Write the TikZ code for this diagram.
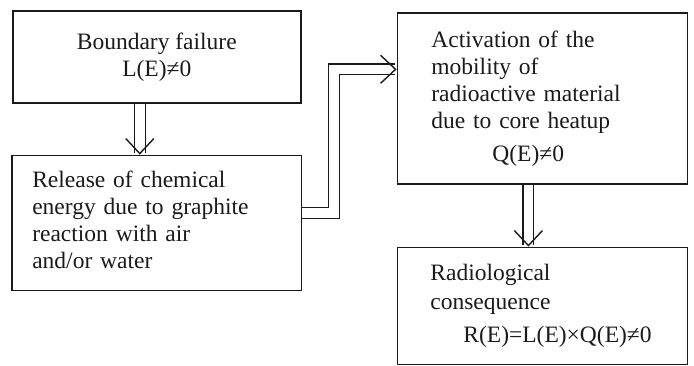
\documentclass[tikz,border=0pt]{standalone}
\usepackage{fontspec}
\setmainfont{Liberation Serif}
\usepackage{xcolor}
\definecolor{cInk}{HTML}{1A1A1A}
\usepackage{tikz}
\usetikzlibrary{positioning,arrows.meta}
\tikzset{
  node-box/.style={draw=cInk,line width=0.8pt,inner ysep=0pt,
    font=\fontsize{11.75}{13.5}\selectfont,text=cInk},
  arrow-dbl/.style={draw=cInk,line width=0.6pt,double,double distance=4.8pt,
    -{Straight Barb[length=7.5pt,width=14pt,line width=0.7pt]}},
}

\begin{document}
\begin{tikzpicture}
  \node[node-box,minimum width=144pt,minimum height=46pt,align=center] (fail)
    {Boundary failure\\L(E)≠0};
  \node[node-box,below=25.5pt of fail,minimum height=67.5pt,
    text width=124.5pt,inner xsep=10pt,align=left] (release)
    {Release of chemical\\energy due to graphite\\reaction with air\\and/or water\\[-10pt]\mbox{}};
  \node[node-box,right=47.5pt of fail.north east,anchor=north west,yshift=-1pt,
    minimum height=85.5pt,text width=111pt,inner xsep=17pt,align=left] (mobil)
    {Activation of the\\mobility of\\radioactive material\\due to core heatup\\[3pt]\hspace*{30.5pt}Q(E)≠0};
  \node[node-box,below=31pt of mobil,minimum height=58.5pt,
    text width=112pt,inner xsep=16.5pt,align=left] (conseq)
    {Radiological\\[1pt]consequence\\[3pt]\hspace*{16.5pt}R(E)=L(E)×Q(E)≠0};
  \draw[arrow-dbl] ([xshift=-8.5pt]fail.south) -- ([xshift=-8.5pt]release.north);
  \draw[arrow-dbl] ([yshift=5pt]release.east) -- ++(16pt,0) |- ([yshift=14.5pt]mobil.west);
  \draw[arrow-dbl] ([xshift=-7pt]mobil.south) -- ([xshift=-7pt]conseq.north);
  \path[use as bounding box] ([shift={(-6pt,5pt)}]fail.north west) rectangle ++(347pt,-181.5pt);
\end{tikzpicture}
\end{document}
